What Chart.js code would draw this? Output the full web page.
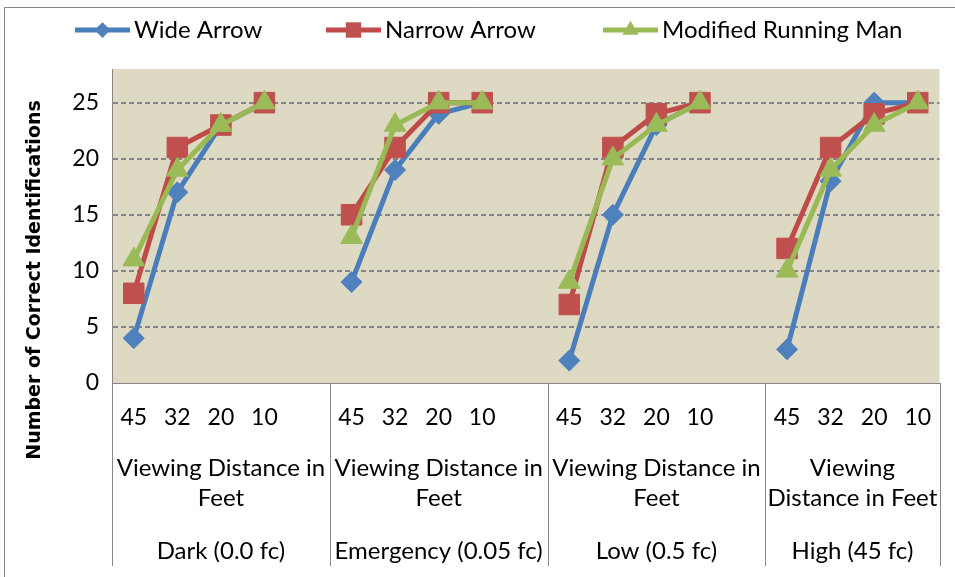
<!DOCTYPE html>
<html lang="en">
<head>
<meta charset="UTF-8">
<title>Correct Identifications by Viewing Distance</title>
<script src="https://cdn.jsdelivr.net/npm/chart.js"></script>
<style>
  html, body { margin: 0; padding: 0; background: #fff; }
  #wrap { width: 955px; height: 577px; position: relative; }
</style>
</head>
<body>
<div id="wrap"><canvas id="chart"></canvas></div>
<script>
  // categories: distance in feet, blank slot between light levels
  const distances = ['45', '32', '20', '10', '', '45', '32', '20', '10', '', '45', '32', '20', '10', '', '45', '32', '20', '10'];
  const lightLevels = ['Dark (0.0 fc)', 'Emergency (0.05 fc)', 'Low (0.5 fc)', 'High (45 fc)'];
  const groupFirst = [0, 5, 10, 15];
  const groupLast = [4, 9, 14, 18];
  const distanceCaption = [
    ['Viewing Distance in', 'Feet'],
    ['Viewing Distance in', 'Feet'],
    ['Viewing Distance in', 'Feet'],
    ['Viewing', 'Distance in Feet']
  ];

  // series
  const wideArrow   = [4, 17, 23, 25, null, 9, 19, 24, 25, null, 2, 15, 23, 25, null, 3, 18, 25, 25];
  const narrowArrow = [8, 21, 23, 25, null, 15, 21, 25, 25, null, 7, 21, 24, 25, null, 12, 21, 24, 25];
  const runningMan  = [11, 19, 23, 25, null, 13, 23, 25, 25, null, 9, 20, 23, 25, null, 10, 19, 23, 25];

  const yTicks = [0, 5, 10, 15, 20, 25];
  const yMax = 28;

  const FONT = 'Lato, "Liberation Sans", Arial, sans-serif';
  const AXIS_GRAY = '#868686';

  const series = [
    { label: 'Wide Arrow', data: wideArrow, line: '#4A7EBB', fill: '#4F81BD', style: 'rectRot', r: 10.5 },
    { label: 'Narrow Arrow', data: narrowArrow, line: '#BE4B48', fill: '#C0504D', style: 'rect', r: 14.5 },
    { label: 'Modified Running Man', data: runningMan, line: '#98B954', fill: '#9BBB59', style: 'triangle', r: 12.5 }
  ];
  const legendX = [75, 326, 603];

  const decorations = {
    id: 'decorations',
    beforeDraw(chart) {
      const ctx = chart.ctx;
      const a = chart.chartArea;
      ctx.save();
      ctx.fillStyle = '#fff';
      ctx.fillRect(0, 0, chart.width, chart.height);
      ctx.strokeStyle = AXIS_GRAY;
      ctx.lineWidth = 1;
      ctx.beginPath();
      ctx.moveTo(4.5, chart.height);
      ctx.lineTo(4.5, 7.5);
      ctx.lineTo(chart.width, 7.5);
      ctx.stroke();
      ctx.fillStyle = '#DDD9C3';
      ctx.fillRect(a.left, a.top, a.right - a.left, a.bottom - a.top);
      ctx.restore();
    },
    afterDraw(chart) {
      const ctx = chart.ctx;
      const a = chart.chartArea;
      const x = chart.scales.x;
      const slot = (a.right - a.left) / distances.length;
      ctx.save();

      // group separators below the axis
      ctx.strokeStyle = AXIS_GRAY;
      ctx.lineWidth = 1;
      const edges = groupFirst.map(i => x.getPixelForValue(i) - slot / 2);
      edges.push(x.getPixelForValue(groupLast[groupLast.length - 1]) + slot / 2);
      edges.forEach(px => {
        const xx = Math.round(px) + 0.5;
        ctx.beginPath();
        ctx.moveTo(xx, a.bottom);
        ctx.lineTo(xx, 566);
        ctx.stroke();
      });

      // caption rows
      ctx.fillStyle = '#000';
      ctx.textAlign = 'center';
      ctx.textBaseline = 'middle';
      ctx.font = '24px ' + FONT;
      groupFirst.forEach((f, g) => {
        const cx = (edges[g] + edges[g + 1]) / 2;
        ctx.fillText(distanceCaption[g][0], cx, 468);
        ctx.fillText(distanceCaption[g][1], cx, 498);
        ctx.fillText(lightLevels[g], cx, 551);
      });

      // y axis title
      ctx.save();
      ctx.translate(35, 280);
      ctx.rotate(-Math.PI / 2);
      ctx.font = 'bold 19px "DejaVu Sans", Verdana, sans-serif';
      ctx.fillText('Number of Correct Identifications', 0, 0);
      ctx.restore();

      // legend: line with marker, then label
      ctx.textAlign = 'left';
      ctx.font = '24px ' + FONT;
      series.forEach((s, i) => {
        const lx = legendX[i];
        ctx.strokeStyle = s.line;
        ctx.lineWidth = 5;
        ctx.beginPath();
        ctx.moveTo(lx, 30);
        ctx.lineTo(lx + 55, 30);
        ctx.stroke();
        ctx.fillStyle = s.fill;
        Chart.helpers.drawPoint(ctx, { pointStyle: s.style, radius: s.r * 0.75, rotation: 0, borderWidth: 0 }, lx + 27.5, 30);
        ctx.fillStyle = '#000';
        ctx.fillText(s.label, lx + 59, 30);
      });
      ctx.restore();
    }
  };

  new Chart(document.getElementById('chart'), {
    type: 'line',
    data: {
      labels: distances,
      datasets: series.map((s, i) => ({
        label: s.label,
        data: s.data,
        borderColor: s.line,
        borderWidth: 5,
        backgroundColor: s.fill,
        pointStyle: s.style,
        pointRadius: s.r,
        pointHoverRadius: s.r,
        pointBackgroundColor: s.fill,
        pointBorderColor: s.fill,
        pointBorderWidth: 1,
        tension: 0,
        spanGaps: false,
        order: series.length - i
      }))
    },
    options: {
      responsive: true,
      maintainAspectRatio: false,
      animation: false,
      layout: { padding: { top: 69, right: 9, left: 0, bottom: 0 } },
      plugins: { legend: { display: false }, tooltip: { enabled: false } },
      scales: {
        x: {
          offset: true,
          grid: { display: false },
          border: { display: true, color: AXIS_GRAY, width: 1 },
          ticks: {
            autoSkip: false,
            maxRotation: 0,
            padding: 13,
            color: '#000',
            font: { family: FONT, size: 23 }
          },
          afterFit(scale) { scale.height = 194; }
        },
        y: {
          min: 0,
          max: yMax,
          afterBuildTicks(scale) { scale.ticks = yTicks.map(v => ({ value: v })); },
          grid: {
            drawTicks: false,
            lineWidth: 2,
            color: ctx => (ctx.tick && ctx.tick.value === 0 ? 'rgba(0,0,0,0)' : AXIS_GRAY)
          },
          border: { display: true, color: AXIS_GRAY, width: 1, dash: [5, 3] },
          ticks: {
            padding: 13,
            color: '#000',
            font: { family: FONT, size: 23 }
          },
          afterFit(scale) { scale.width = 112; }
        }
      }
    },
    plugins: [decorations]
  });
</script>
</body>
</html>
